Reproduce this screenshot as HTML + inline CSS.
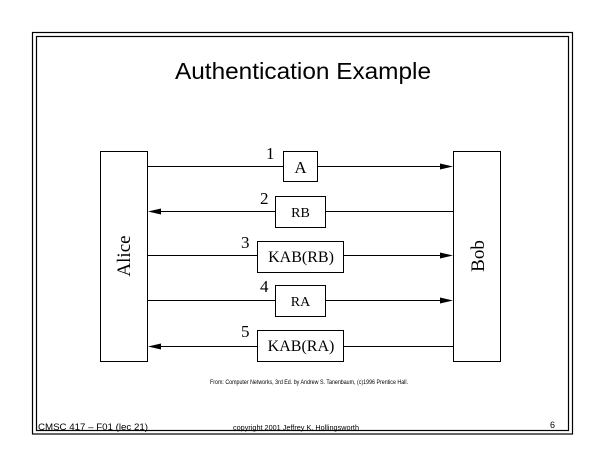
<!DOCTYPE html>
<html><head><style>
body{margin:0;background:#fff;width:605px;height:467px;overflow:hidden}
</style></head><body>
<svg width="605" height="467" xmlns="http://www.w3.org/2000/svg" font-family="Liberation Serif, serif">
<rect x="32.5" y="32.5" width="540" height="401.5" fill="none" stroke="#000" stroke-width="1.2"/>
<rect x="36.5" y="36.5" width="532" height="394" fill="none" stroke="#000" stroke-width="1.2"/>
<text x="303" y="79" font-family="Liberation Sans, sans-serif" font-size="23" text-anchor="middle" textLength="256" lengthAdjust="spacingAndGlyphs">Authentication Example</text>
<g fill="none" stroke="#000" stroke-width="1">
<rect x="100.5" y="151.5" width="47" height="210"/>
<rect x="453.5" y="151.5" width="47" height="210"/>
<line x1="148" y1="166.5" x2="445" y2="166.5"/>
<line x1="155" y1="211.5" x2="453" y2="211.5"/>
<line x1="148" y1="255.5" x2="445" y2="255.5"/>
<line x1="148" y1="300.5" x2="445" y2="300.5"/>
<line x1="155" y1="346.5" x2="453" y2="346.5"/>
</g>
<g fill="#000">
<polygon points="453,166.5 440,163.5 440,169.5"/>
<polygon points="148,211.5 161,208.5 161,214.5"/>
<polygon points="453,255.5 440,252.5 440,258.5"/>
<polygon points="453,300.5 440,297.5 440,303.5"/>
<polygon points="148,346.5 161,343.5 161,349.5"/>
</g>
<g fill="#fff" stroke="#000" stroke-width="1">
<rect x="283.5" y="151.5" width="34" height="30"/>
<rect x="275.5" y="196.5" width="50" height="31"/>
<rect x="257.5" y="241.5" width="86" height="31"/>
<rect x="275.5" y="285.5" width="50" height="31"/>
<rect x="257.5" y="330.5" width="86" height="31"/>
</g>
<g font-size="17">
<text x="300.5" y="173" text-anchor="middle">A</text>
<text x="300.5" y="217" text-anchor="middle" font-size="14">RB</text>
<text x="301" y="262" text-anchor="middle" font-size="16">KAB(RB)</text>
<text x="300.5" y="306" text-anchor="middle" font-size="14">RA</text>
<text x="301" y="351" text-anchor="middle" font-size="16">KAB(RA)</text>
<text x="266" y="159">1</text>
<text x="260" y="204">2</text>
<text x="241" y="248">3</text>
<text x="260" y="292">4</text>
<text x="241" y="337">5</text>
<text transform="translate(130,256) rotate(-90)" text-anchor="middle" font-size="19">Alice</text>
<text transform="translate(484,256) rotate(-90)" text-anchor="middle" font-size="19">Bob</text>
</g>
<g font-family="Liberation Sans, sans-serif">
<text x="309" y="384" font-size="6" text-anchor="middle" textLength="198" lengthAdjust="spacingAndGlyphs">From: Computer Networks, 3rd Ed. by Andrew S. Tanenbaum, (c)1996 Prentice Hall.</text>
<text x="38" y="430" font-size="9" textLength="110" lengthAdjust="spacingAndGlyphs">CMSC 417 – F01  (lec 21)</text>
<text x="233" y="430" font-size="7" textLength="126" lengthAdjust="spacingAndGlyphs">copyright 2001  Jeffrey K. Hollingsworth</text>
<text x="550" y="428" font-size="9">6</text>
</g>
</svg>
</body></html>
